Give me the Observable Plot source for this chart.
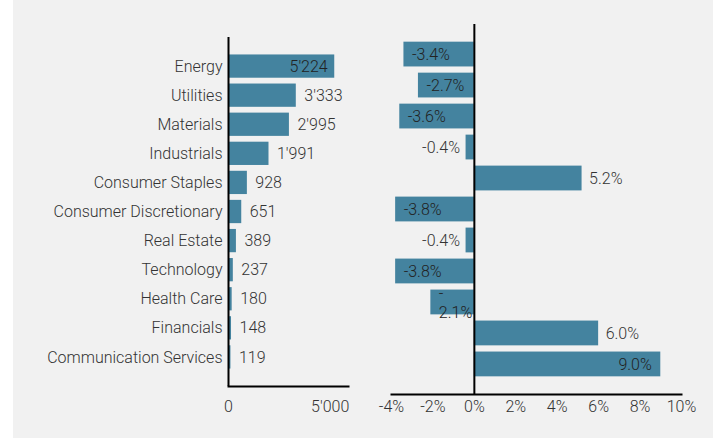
<!DOCTYPE html>
<html>
<head>
<meta charset="utf-8">
<script src="https://cdn.jsdelivr.net/npm/d3@7"></script>
<script src="https://cdn.jsdelivr.net/npm/@observablehq/plot@0.6"></script>
<style>
  html, body { margin: 0; padding: 0; background: #ffffff; }
  #panel { position: absolute; left: 13px; top: 0; width: 700px; height: 438px; background: #f1f1f1; overflow: hidden; }
  #left { position: absolute; left: 0; top: 0; }
  #right { position: absolute; left: 360px; top: 0; }
  svg text { font-family: Roboto, "Noto Sans", sans-serif; }
</style>
</head>
<body>
<div id="panel"><div id="left"></div><div id="right"></div></div>
<script>
const sectors = ["Energy","Utilities","Materials","Industrials","Consumer Staples","Consumer Discretionary","Real Estate","Technology","Health Care","Financials","Communication Services"];
const marketCap = [5224,3333,2995,1991,928,651,389,237,180,148,119];
const performance = [-3.4,-2.7,-3.6,-0.4,5.2,-3.8,-0.4,-3.8,-2.1,6.0,9.0];
const capTicks = [0,5000];
const perfTicks = [-4,-2,0,2,4,6,8,10];

const barColor = "#44839f";
const textColor = "#333333";
const font = "Roboto, 'Noto Sans', sans-serif";
const fs = 16;

const locale = d3.formatLocale({decimal: ".", thousands: "'", grouping: [3], currency: ["", ""], minus: "-"});
const fmtCap = locale.format(",d");
const fmtPct = v => (v < 0 ? "-" : "") + Math.abs(v).toFixed(1) + "%";

const rows = sectors.map((s, i) => ({sector: s, cap: marketCap[i], perf: performance[i]}));

const left = Plot.plot({
  width: 360, height: 439,
  marginLeft: 215, marginRight: 25, marginTop: 37, marginBottom: 53,
  style: {background: "transparent", fontFamily: font, fontSize: fs + "px", color: textColor, fontWeight: 300},
  x: {domain: [0, 5900], ticks: capTicks, tickFormat: fmtCap, tickSize: 0, tickPadding: 14, label: null},
  y: {domain: sectors, paddingInner: 0.2, paddingOuter: 0.6, round: false, tickSize: 0, tickPadding: 6, label: null},
  marks: [
    Plot.barX(rows, {x: "cap", y: "sector", fill: barColor}),
    Plot.text(rows.filter(d => d.cap > 4000), {x: "cap", y: "sector", text: d => fmtCap(d.cap), textAnchor: "end", dx: -7, fill: "#222", fontSize: fs}),
    Plot.text(rows.filter(d => d.cap <= 4000), {x: "cap", y: "sector", text: d => fmtCap(d.cap), textAnchor: "start", dx: 8, fill: textColor, fontSize: fs}),
    Plot.ruleX([0], {stroke: "#000", strokeWidth: 2}),
    Plot.frame({anchor: "bottom", stroke: "#000", strokeWidth: 2})
  ]
});
document.getElementById("left").appendChild(left);

const wrapLabel = v => (v < 0 && Math.abs(v) < 2.5) ? "-\n" + fmtPct(Math.abs(v)) : fmtPct(v);

const right = Plot.plot({
  width: 340, height: 439,
  marginLeft: 18, marginRight: 32, marginTop: 24, marginBottom: 45,
  style: {background: "transparent", fontFamily: font, fontSize: fs + "px", color: textColor, fontWeight: 300},
  x: {domain: [-4, 10], ticks: perfTicks, tickFormat: d => d + "%", tickSize: 0, tickPadding: 6, label: null},
  y: {domain: sectors, paddingInner: 0.2, paddingOuter: 0.57, round: false, axis: null},
  marks: [
    Plot.barX(rows, {x: "perf", y: "sector", fill: barColor}),
    Plot.text(rows.filter(d => d.perf < -1), {x: "perf", y: "sector", text: d => wrapLabel(d.perf), textAnchor: "start", dx: 8, lineHeight: 1.15, fill: "#222", fontSize: fs}),
    Plot.text(rows.filter(d => d.perf >= -1 && d.perf < 0), {x: "perf", y: "sector", text: d => fmtPct(d.perf), textAnchor: "end", dx: -6, fill: textColor, fontSize: fs}),
    Plot.text(rows.filter(d => d.perf > 0 && d.perf <= 8), {x: "perf", y: "sector", text: d => fmtPct(d.perf), textAnchor: "start", dx: 7, fill: textColor, fontSize: fs}),
    Plot.text(rows.filter(d => d.perf > 8), {x: "perf", y: "sector", text: d => fmtPct(d.perf), textAnchor: "end", dx: -9, fill: "#222", fontSize: fs}),
    Plot.ruleX([0], {stroke: "#000", strokeWidth: 2}),
    Plot.frame({anchor: "bottom", stroke: "#000", strokeWidth: 2})
  ]
});
document.getElementById("right").appendChild(right);
</script>
</body>
</html>
